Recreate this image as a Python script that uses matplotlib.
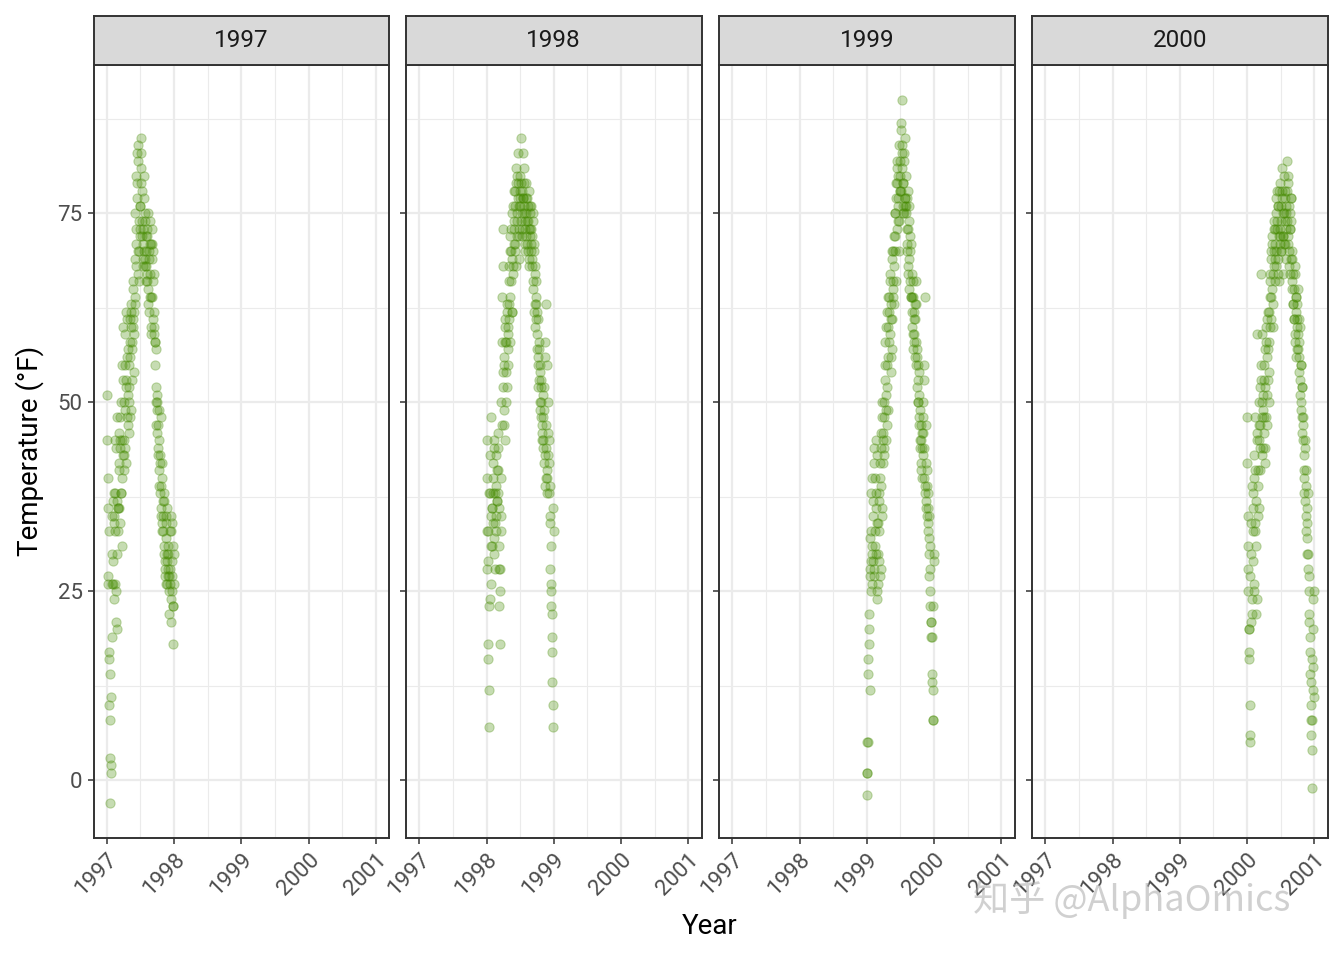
import numpy as np
import matplotlib.pyplot as plt
import matplotlib.dates as mdates

plt.rcParams['font.family'] = ['Roboto', 'DejaVu Sans']

years = [1997, 1998, 1999, 2000]

# sampled days of the year, two interleaved sets
days_a = [1, 4, 7, 10, 13, 16, 19, 22, 25, 28, 31,
          34, 37, 40, 43, 46, 49, 52, 55, 58,
          61, 64, 67, 70, 73, 76, 79, 82, 85, 88,
          91, 94, 97, 100, 103, 106, 109, 112, 115, 118,
          121, 124, 127, 130, 133, 136, 139, 142, 145, 148, 151,
          154, 157, 160, 163, 166, 169, 172, 175, 178, 181,
          184, 187, 190, 193, 196, 199, 202, 205, 208, 211,
          214, 217, 220, 223, 226, 229, 232, 235, 238, 241,
          244, 247, 250, 253, 256, 259, 262, 265, 268, 271,
          274, 277, 280, 283, 286, 289, 292, 295, 298, 301, 304,
          307, 310, 313, 316, 319, 322, 325, 328, 331,
          334, 337, 340, 343, 346, 349, 352, 355, 358, 361, 364]

days_b = [2, 5, 8, 11, 14, 17, 20, 23, 26, 29,
          32, 35, 38, 41, 44, 47, 50, 53, 56, 59,
          62, 65, 68, 71, 74, 77, 80, 83, 86, 89,
          92, 95, 98, 101, 104, 107, 110, 113, 116, 119,
          122, 125, 128, 131, 134, 137, 140, 143, 146, 149,
          152, 155, 158, 161, 164, 167, 170, 173, 176, 179,
          182, 185, 188, 191, 194, 197, 200, 203, 206, 209, 212,
          215, 218, 221, 224, 227, 230, 233, 236, 239, 242,
          245, 248, 251, 254, 257, 260, 263, 266, 269, 272,
          275, 278, 281, 284, 287, 290, 293, 296, 299, 302,
          305, 308, 311, 314, 317, 320, 323, 326, 329, 332,
          335, 338, 341, 344, 347, 350, 353, 356, 359, 362, 365]

# temperatures (F), month by month
temp_1997_a = [51, 36, 27, 17, 10, 3, -3, 1, 11, 19, 30,
               26, 35, 38, 45, 33, 25, 21, 37, 48,
               33, 36, 41, 45, 44, 50, 38, 31, 40, 53,
               45, 43, 49, 55, 42, 52, 61, 56, 47, 50,
               55, 58, 48, 60, 62, 57, 53, 61, 66, 59, 63,
               64, 68, 73, 79, 83, 84, 70, 66, 72, 76,
               81, 85, 78, 74, 69, 71, 80, 75, 68, 72,
               70, 67, 73, 65, 63, 69, 71, 74, 64, 60,
               73, 69, 66, 70, 59, 62, 58, 57, 52, 49,
               50, 47, 43, 45, 39, 42, 48, 36, 40, 34, 37,
               33, 37, 30, 28, 35, 32, 26, 29, 27,
               31, 27, 22, 26, 33, 35, 29, 25, 18, 23, 30]
temp_1997_b = [45, 40, 26, 33, 16, 14, 8, 2, 26, 35,
               37, 29, 24, 34, 26, 38, 44, 30, 20, 36,
               36, 42, 46, 34, 48, 38, 55, 45, 43, 60,
               41, 50, 59, 44, 53, 62, 48, 51, 57, 46,
               52, 61, 56, 49, 63, 58, 60, 65, 54, 62,
               69, 75, 80, 71, 77, 82, 67, 74, 70, 73,
               76, 83, 79, 72, 68, 73, 77, 70, 74, 69, 66,
               68, 72, 66, 75, 62, 70, 64, 67, 71, 59,
               71, 64, 61, 67, 60, 58, 55, 50, 47, 51,
               46, 44, 49, 41, 38, 43, 35, 39, 42, 33,
               35, 31, 38, 27, 29, 34, 26, 30, 36, 28,
               30, 25, 33, 28, 21, 24, 34, 27, 31, 23, 26]

temp_1998_a = [28, 45, 33, 18, 12, 7, 24, 38, 31, 48, 36,
               34, 40, 44, 32, 28, 38, 43, 35, 37,
               41, 46, 36, 28, 18, 25, 33, 50, 64, 73,
               52, 55, 47, 58, 61, 50, 54, 62, 57, 60,
               63, 68, 58, 72, 66, 70, 62, 75, 68, 73, 78,
               71, 76, 79, 68, 74, 80, 83, 72, 69, 77,
               78, 85, 79, 75, 73, 77, 81, 76, 70, 74,
               77, 79, 74, 71, 76, 73, 69, 75, 72, 70,
               76, 72, 68, 74, 66, 70, 63, 67, 61, 64,
               57, 62, 55, 52, 58, 54, 49, 50, 53, 47, 45,
               48, 44, 52, 56, 43, 40, 63, 38, 41,
               50, 46, 42, 39, 35, 31, 25, 22, 17, 10, 7]
temp_1998_b = [33, 40, 16, 29, 23, 38, 43, 26, 35, 31,
               36, 42, 38, 30, 45, 34, 39, 33, 41, 37,
               44, 38, 31, 23, 28, 35, 40, 47, 58, 68,
               54, 49, 56, 60, 45, 58, 52, 63, 55, 59,
               66, 61, 70, 64, 73, 62, 69, 76, 67, 71,
               74, 78, 70, 81, 75, 72, 77, 79, 73, 76,
               76, 80, 74, 78, 72, 83, 77, 75, 79, 71, 73,
               75, 72, 77, 70, 74, 78, 68, 73, 76, 71,
               73, 69, 75, 65, 71, 62, 68, 60, 66, 63,
               59, 56, 61, 53, 57, 50, 55, 48, 52, 46,
               45, 51, 42, 49, 58, 39, 44, 47, 55, 40,
               43, 38, 45, 34, 28, 26, 23, 19, 13, 36, 33]

temp_1999_a = [1, -2, 5, 16, 20, 12, 28, 33, 25, 40, 30,
               29, 35, 42, 27, 31, 38, 45, 24, 34,
               30, 26, 37, 33, 40, 28, 44, 48, 36, 42,
               46, 50, 43, 55, 49, 60, 52, 47, 56, 64,
               58, 62, 66, 54, 61, 69, 57, 65, 70, 63, 68,
               72, 75, 66, 79, 81, 74, 77, 70, 84, 78,
               80, 87, 90, 83, 76, 79, 82, 75, 77, 85,
               76, 73, 71, 78, 68, 74, 65, 70, 72, 64,
               67, 62, 64, 59, 61, 58, 56, 63, 55, 66,
               52, 55, 50, 47, 54, 44, 49, 45, 41, 46, 43,
               48, 53, 40, 38, 64, 42, 36, 39, 34,
               33, 30, 35, 28, 23, 21, 19, 14, 12, 8, 29]
temp_1999_b = [5, 1, 14, 18, 22, 27, 32, 29, 38, 26,
               31, 37, 44, 28, 33, 40, 36, 30, 43, 25,
               34, 29, 38, 42, 27, 46, 39, 35, 50, 45,
               48, 44, 53, 58, 51, 45, 62, 55, 60, 49,
               64, 59, 67, 63, 56, 70, 61, 66, 64, 72,
               75, 70, 79, 77, 73, 82, 76, 80, 74, 78,
               82, 86, 78, 84, 81, 75, 79, 83, 77, 76, 80,
               75, 70, 77, 67, 73, 69, 76, 66, 71, 64,
               64, 60, 66, 57, 62, 59, 61, 58, 63, 56,
               57, 50, 53, 48, 51, 45, 47, 42, 44, 40,
               50, 46, 55, 44, 39, 47, 37, 41, 35, 38,
               36, 32, 27, 31, 25, 21, 19, 13, 8, 23, 30]

temp_2000_a = [42, 35, 28, 20, 17, 10, 5, 21, 30, 24, 38,
               33, 25, 40, 48, 34, 22, 31, 45, 59,
               41, 47, 36, 52, 44, 55, 67, 50, 43, 49,
               46, 53, 42, 57, 48, 60, 51, 56, 62, 54,
               58, 64, 67, 61, 70, 65, 72, 60, 68, 74, 66,
               71, 75, 68, 73, 78, 69, 76, 66, 72, 79,
               74, 70, 77, 81, 72, 67, 75, 71, 78, 73,
               76, 82, 74, 71, 79, 68, 73, 75, 77, 69,
               70, 65, 67, 63, 61, 68, 58, 64, 56, 60,
               63, 57, 59, 54, 61, 51, 49, 55, 46, 52, 48,
               45, 41, 38, 44, 35, 39, 32, 34, 28,
               30, 25, 21, 17, 13, 8, 4, -1, 15, 24, 11]
temp_2000_b = [48, 31, 25, 20, 16, 6, 27, 34, 22, 39,
               29, 36, 43, 26, 33, 41, 37, 46, 24, 35,
               39, 45, 50, 47, 41, 53, 48, 59, 44, 51,
               48, 55, 44, 52, 58, 47, 61, 53, 57, 50,
               62, 66, 60, 69, 64, 71, 63, 67, 73, 70,
               69, 73, 77, 70, 74, 67, 76, 72, 78, 71,
               73, 76, 70, 78, 72, 75, 80, 71, 77, 74, 69,
               75, 78, 72, 80, 70, 76, 73, 67, 74, 77,
               66, 69, 63, 65, 61, 67, 59, 64, 62, 57,
               61, 65, 56, 58, 53, 60, 50, 55, 48, 52,
               47, 43, 40, 45, 37, 41, 33, 36, 30, 38,
               27, 22, 19, 14, 10, 6, 8, 16, 12, 20, 25]

temps_a = {1997: temp_1997_a, 1998: temp_1998_a, 1999: temp_1999_a, 2000: temp_2000_a}
temps_b = {1997: temp_1997_b, 1998: temp_1998_b, 1999: temp_1999_b, 2000: temp_2000_b}

W, H = 1344, 960
lefts = [93.7, 406, 719, 1032]
pw = 295.5
grey_txt = '#4D4D4D'
dark = '#333333'
green = '#458B00'

fig = plt.figure(figsize=(W / 100, H / 100), dpi=100)

for i, yr in enumerate(years):
    start = np.datetime64(f'{yr}-01-01')
    ax = fig.add_axes([lefts[i] / W, 1 - 838 / H, pw / W, (838 - 65) / H])
    for days, vals in [(days_a, temps_a[yr]), (days_b, temps_b[yr])]:
        dates = start + np.array(days) - 1
        ax.scatter(dates, vals, s=44, color=green, alpha=0.3,
                   edgecolors=green, linewidths=0.8, zorder=3)

    ax.set_xlim(np.datetime64('1996-10-21'), np.datetime64('2001-03-13'))
    ax.set_ylim(-7.65, 94.65)
    ax.xaxis.set_major_locator(mdates.YearLocator())
    ax.xaxis.set_minor_locator(mdates.MonthLocator(bymonth=7))
    ax.xaxis.set_major_formatter(mdates.DateFormatter('%Y'))
    ax.set_yticks([0, 25, 50, 75])
    ax.set_yticks([12.5, 37.5, 62.5, 87.5], minor=True)

    ax.grid(True, which='major', color='#EBEBEB', lw=1.6)
    ax.grid(True, which='minor', color='#EBEBEB', lw=0.8)
    ax.set_axisbelow(True)
    for sp in ax.spines.values():
        sp.set_color(dark)
        sp.set_linewidth(1.4)
    ax.tick_params(which='major', length=4.5, width=1.1, color=dark,
                   labelsize=16, labelcolor=grey_txt)
    ax.tick_params(which='minor', length=0)
    if i > 0:
        ax.tick_params(labelleft=False)
    for lab in ax.get_xticklabels():
        lab.set_rotation(45)
        lab.set_ha('right')
        lab.set_va('top')
        lab.set_rotation_mode('anchor')

    # facet strip
    sax = fig.add_axes([lefts[i] / W, 1 - 65 / H, pw / W, 49 / H])
    sax.set_facecolor('#D9D9D9')
    sax.set_xticks([])
    sax.set_yticks([])
    for sp in sax.spines.values():
        sp.set_color(dark)
        sp.set_linewidth(1.4)
    sax.text(0.5, 0.5, str(yr), ha='center', va='center', fontsize=17.5,
             color='#1A1A1A', transform=sax.transAxes)

fig.text(710 / W, 1 - 926 / H, 'Year', ha='center', va='center', fontsize=20)
fig.text(30 / W, 1 - 451 / H, 'Temperature (°F)', ha='center', va='center',
         rotation=90, fontsize=20)

fig.text(1132 / W, 1 - 900 / H, '知乎 @AlphaOmics', ha='center', va='center',
         fontsize=26, color='#AAAAAA', alpha=0.55,
         family=['Noto Sans CJK SC', 'DejaVu Sans'])

fig.savefig('out.png', dpi=100)
